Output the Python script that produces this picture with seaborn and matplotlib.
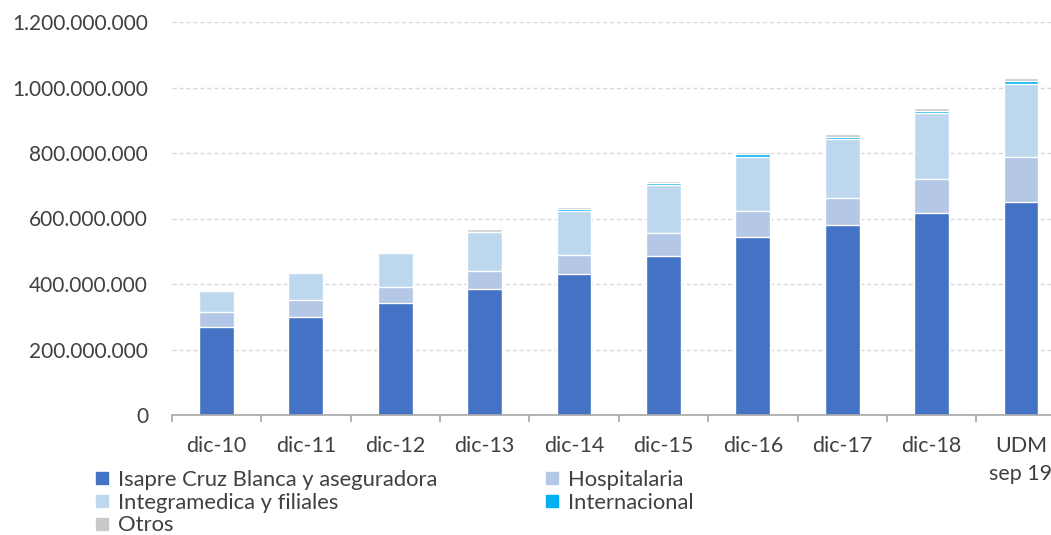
import matplotlib
matplotlib.use("Agg")
import matplotlib.pyplot as plt
import seaborn as sns
import numpy as np
import pandas as pd
from matplotlib.lines import Line2D
from matplotlib.ticker import FuncFormatter, FixedLocator

categories = ["dic-10", "dic-11", "dic-12", "dic-13", "dic-14", "dic-15",
              "dic-16", "dic-17", "dic-18", "UDM\nsep 19"]
isapre = [270, 300, 341, 384, 431, 485, 544, 580, 616, 651]
hospitalaria = [44, 52, 51, 55, 59, 71, 79, 83, 106, 138]
integramedica = [65, 81, 102, 121, 133, 146, 165, 179, 199, 222]
internacional = [0, 0, 0, 0, 5, 6, 8, 6, 7, 8]
otros = [0, 0, 5, 9, 6, 6, 8, 9, 8, 9]
yticks = [0, 200_000_000, 400_000_000, 600_000_000, 800_000_000,
          1_000_000_000, 1_200_000_000]

series_names = ["Isapre Cruz Blanca y aseguradora", "Hospitalaria",
                "Integramedica y filiales", "Internacional", "Otros"]
series_vals = [isapre, hospitalaria, integramedica, internacional, otros]
colors = ["#4472C4", "#B4C7E7", "#BDD7EE", "#00B0F0", "#C9C9C9"]

sns.set_theme(style="white")
plt.rcParams["font.family"] = ["Lato", "DejaVu Sans"]

fig = plt.figure(figsize=(10.51, 5.35), dpi=100)
W, H = 1051, 535
left, right, top, bottom = 171.7, 171.7 + 89.4 * 10, 22, 415
ax = fig.add_axes([left / W, (H - bottom) / H, (right - left) / W, (bottom - top) / H])

arr = np.array(series_vals, dtype=float) * 1e6
cum = np.cumsum(arr, axis=0)

for i in range(len(series_names) - 1, -1, -1):
    df = pd.DataFrame({"cat": categories, "val": cum[i]})
    sns.barplot(data=df, x="cat", y="val", order=categories, color=colors[i],
                saturation=1, width=0.39, edgecolor="white", linewidth=1.0,
                ax=ax, zorder=3)

ax.set_xlim(-0.5, len(categories) - 0.5)
ax.set_ylim(0, 1_200_000_000)
ax.set_yticks(yticks)
ax.yaxis.set_major_formatter(FuncFormatter(lambda v, p: f"{int(v):,}".replace(",", ".")))
ax.grid(axis="y", color="#D9D9D9", linestyle=(0, (3, 2)), linewidth=1.0, zorder=0)
ax.grid(axis="x", visible=False)
for s in ["top", "right", "left"]:
    ax.spines[s].set_visible(False)
ax.spines["bottom"].set_color("#A6A6A6")
ax.spines["bottom"].set_linewidth(1.2)
ax.spines["bottom"].set_zorder(4)

ax.set_xlabel("")
ax.set_ylabel("")
ax.set_xticks(range(len(categories)), categories, linespacing=1.5)
ax.tick_params(axis="x", which="major", length=0, pad=15, labelsize=15.5, labelcolor="#404040")
ax.tick_params(axis="y", which="major", length=0, pad=17, labelsize=15, labelcolor="#404040")
ax.xaxis.set_minor_locator(FixedLocator(np.arange(-0.5, len(categories), 1.0)))
ax.tick_params(axis="x", which="minor", length=5, width=1.2, color="#A6A6A6", bottom=True)

handles = [Line2D([], [], marker="s", linestyle="none", markersize=9,
                  markerfacecolor=c, markeredgecolor=c) for c in colors]
order = [0, 2, 4, 1, 3]
leg = fig.legend([handles[i] for i in order], [series_names[i] for i in order],
                 loc="upper left", bbox_to_anchor=(93 / W, 1 - 470 / H), ncol=2,
                 frameon=False, fontsize=15.8, handlelength=0.8, handletextpad=0.35,
                 labelspacing=0.12, columnspacing=4.8, borderaxespad=0, borderpad=0)
for t in leg.get_texts():
    t.set_color("#404040")

fig.savefig("out.png", dpi=100)
